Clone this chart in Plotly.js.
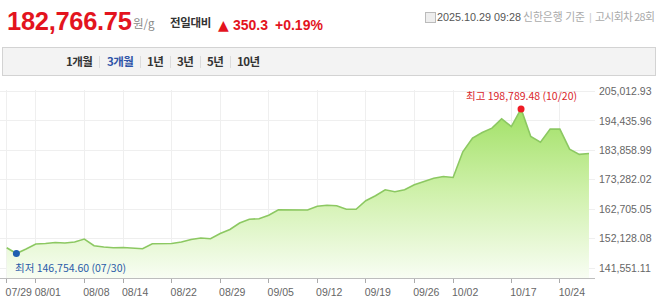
<!DOCTYPE html>
<html>
<head>
<meta charset="utf-8">
<script src="https://cdn.plot.ly/plotly-3.0.1.min.js"></script>
<style>
  html, body { margin:0; padding:0; background:#fff; }
  #wrap { position:relative; width:658px; height:308px; overflow:hidden; font-family:"Liberation Sans","Noto Sans CJK KR",sans-serif; }
  #chart { position:absolute; left:0; top:0; width:658px; height:308px; }
  .t { position:absolute; white-space:nowrap; line-height:1; }
  .ko { font-family:"Noto Sans CJK KR","Liberation Sans",sans-serif; }
  #bar { position:absolute; left:2px; top:47px; width:652px; height:27px; background:#f3f3f3; border:1px solid #d3d3d3; }
  .btn { position:absolute; top:56px; font-size:11.5px; font-weight:bold; color:#333; letter-spacing:-0.5px; }
  .sep { position:absolute; top:56px; width:1px; height:12px; background:#dcdcdc; }
</style>
</head>
<body>
<div id="wrap">
  <div id="chart"></div>
  <div class="t" style="left:7px;top:9px;font-size:25.5px;font-weight:bold;color:#e3141e;letter-spacing:-0.3px;">182,766.75</div>
  <div class="t ko" style="left:133px;top:18px;font-size:11.5px;color:#888;">원/g</div>
  <div class="t ko" style="left:170px;top:17px;font-size:11.5px;font-weight:bold;color:#333;letter-spacing:-0.3px;">전일대비</div>
  <div class="t" style="left:218px;top:18px;font-size:14px;color:#e3141e;font-family:'DejaVu Sans';">▲</div>
  <div class="t" style="left:233px;top:18px;font-size:14px;font-weight:bold;color:#e3141e;">350.3</div>
  <div class="t" style="left:275px;top:18px;font-size:14px;font-weight:bold;color:#e3141e;">+0.19%</div>
  <div class="t" style="left:425px;top:12px;width:9px;height:9px;border:1px solid #bbb;background:#eee;"></div>
  <div class="t" style="left:437px;top:12px;font-size:10.8px;color:#555;">2025.10.29 09:28</div>
  <div class="t ko" style="left:523px;top:11px;font-size:10.8px;color:#aaa;">신한은행 기준</div>
  <div class="t" style="left:589px;top:12px;font-size:10.8px;color:#ccc;">|</div>
  <div class="t ko" style="left:595px;top:11px;font-size:10.8px;color:#aaa;letter-spacing:-0.6px;">고시회차 28회</div>
  <div id="bar"></div>
  <div class="t btn ko" style="left:66px;">1개월</div>
  <div class="sep" style="left:99px;"></div>
  <div class="t btn ko" style="left:107px;color:#2f55a8;">3개월</div>
  <div class="sep" style="left:140px;"></div>
  <div class="t btn ko" style="left:147px;">1년</div>
  <div class="sep" style="left:170px;"></div>
  <div class="t btn ko" style="left:177px;">3년</div>
  <div class="sep" style="left:200px;"></div>
  <div class="t btn ko" style="left:207px;">5년</div>
  <div class="sep" style="left:230px;"></div>
  <div class="t btn ko" style="left:237px;">10년</div>
</div>
<script>
const dates = ["07/29","07/30","07/31","08/01","08/04","08/05","08/06","08/07","08/08","08/11","08/12","08/13","08/14","08/18","08/19","08/20","08/21","08/22","08/25","08/26","08/27","08/28","08/29","09/01","09/02","09/03","09/04","09/05","09/08","09/09","09/10","09/11","09/12","09/15","09/16","09/17","09/18","09/19","09/22","09/23","09/24","09/25","09/26","09/29","09/30","10/01","10/02","10/10","10/13","10/14","10/15","10/16","10/17","10/20","10/21","10/22","10/23","10/24","10/27","10/28","10/29"];
const prices = [148847.20, 146754.60, 148380.15, 150177.40, 150392.10, 150752.35, 150536.80, 150895.25, 151974.60, 149566.30, 149098.75, 148847.10, 148955.45, 148739.20, 148487.65, 150284.30, 150392.55, 150392.10, 150895.80, 151830.25, 152333.40, 152081.90, 153986.15, 155424.70, 157724.35, 159090.20, 159269.85, 160527.40, 162504.10, 162504.60, 162504.35, 162396.20, 163762.55, 164121.30, 163942.75, 162684.40, 162684.10, 165739.25, 167535.60, 169692.15, 168973.40, 169692.80, 171489.35, 172567.20, 173825.65, 174472.10, 174113.45, 183349.30, 188273.15, 190286.40, 191867.25, 195209.60, 192442.35, 198789.48, 188848.20, 186835.70, 191508.15, 191508.40, 184320.25, 182416.45, 182766.75];
const xTickDates = ["07/29","08/01","08/08","08/14","08/22","08/29","09/05","09/12","09/19","09/26","10/02","10/17","10/24"];
const yTickVals = [141551.11, 152128.08, 162705.05, 173282.02, 183858.99, 194435.96, 205012.93];

const fmt = v => v.toLocaleString('en-US', {minimumFractionDigits:2, maximumFractionDigits:2});
let iMax = 0, iMin = 0;
prices.forEach((p, i) => { if (p > prices[iMax]) iMax = i; if (p < prices[iMin]) iMin = i; });

const traces = [
  {
    x: dates, y: prices, type: 'scatter', mode: 'lines',
    line: {color: '#8cc862', width: 1.6},
    fill: 'tozeroy',
    fillgradient: {type: 'vertical', start: 138000, stop: 199000,
      colorscale: [[0, 'rgba(248,253,243,1)'], [0.5, 'rgba(208,241,172,1)'], [1, 'rgba(160,224,100,1)']]},
    hoverinfo: 'skip', showlegend: false
  },
  {
    x: [dates[iMax]], y: [prices[iMax]], type: 'scatter', mode: 'markers',
    marker: {color: '#ee1c25', size: 7}, showlegend: false, hoverinfo: 'skip'
  },
  {
    x: [dates[iMin]], y: [prices[iMin]], type: 'scatter', mode: 'markers',
    marker: {color: '#1f5fb0', size: 7}, showlegend: false, hoverinfo: 'skip'
  }
];

const layout = {
  width: 658, height: 308,
  margin: {l: 0, r: 63, t: 90, b: 30},
  paper_bgcolor: 'rgba(0,0,0,0)', plot_bgcolor: '#fff',
  font: {family: '"Liberation Sans","Noto Sans CJK KR",sans-serif', size: 10.5, color: '#666'},
  xaxis: {
    type: 'category', categoryorder: 'array', categoryarray: dates,
    range: [-0.69, 60.62],
    tickmode: 'array', tickvals: xTickDates, ticktext: xTickDates,
    showgrid: true, gridcolor: '#efefef', gridwidth: 1,
    showline: true, linecolor: '#bdbdbd', linewidth: 1,
    ticks: 'outside', ticklen: 4, tickcolor: '#aaa',
    ticklabelshift: 12,
    tickfont: {size: 10.5, color: '#666'},
    fixedrange: true
  },
  yaxis: {
    side: 'right', range: [137960, 205580],
    tickmode: 'array', tickvals: yTickVals, ticktext: yTickVals.map(fmt),
    showgrid: true, gridcolor: '#efefef', gridwidth: 1,
    zeroline: false, showline: false, ticks: '',
    ticklabelstandoff: 3,
    tickfont: {size: 10.5, color: '#666'},
    fixedrange: true
  },
  annotations: [
    {
      x: dates[iMax], y: prices[iMax], xref: 'x', yref: 'y',
      text: '최고 ' + fmt(prices[iMax]) + ' (' + dates[iMax] + ')',
      showarrow: false, yanchor: 'bottom', yshift: 4, xanchor: 'center',
      font: {size: 10.5, color: '#d9262c', family: '"Noto Sans CJK KR","Liberation Sans",sans-serif'}
    },
    {
      x: dates[iMin], y: prices[iMin], xref: 'x', yref: 'y',
      text: '최저 ' + fmt(prices[iMin]) + ' (' + dates[iMin] + ')',
      showarrow: false, yanchor: 'top', yshift: -4, xanchor: 'left', xshift: -3,
      font: {size: 10.5, color: '#2a5ba8', family: '"Noto Sans CJK KR","Liberation Sans",sans-serif'}
    }
  ]
};

Plotly.newPlot('chart', traces, layout, {displayModeBar: false, staticPlot: true});
</script>
</body>
</html>
